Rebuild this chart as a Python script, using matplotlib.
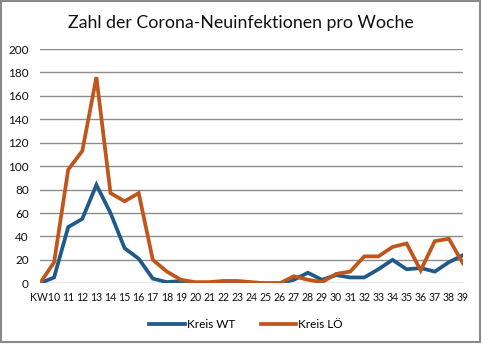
import matplotlib
matplotlib.use("Agg")
import matplotlib.pyplot as plt
from matplotlib.patches import Rectangle

plt.rcParams['font.family'] = ['Lato', 'DejaVu Sans']

# Data: 31 weekly points (first point is a leading zero before KW10)
x_idx = list(range(31))
tick_labels = ["KW10"] + [str(w) for w in range(11, 40)]
kreis_wt = [0, 5, 48, 55, 84, 60, 30, 21, 4, 1, 2, 0, 0, 0, 0, 0, 0, 0, 3, 9,
            3, 7, 5, 5, 12, 20, 12, 13, 10, 18, 24]
kreis_lo = [0, 18, 97, 113, 176, 77, 70, 77, 20, 10, 3, 1, 1, 2, 2, 1, 0, 0, 6, 3,
            1, 8, 10, 23, 23, 31, 34, 11, 36, 38, 17]
y_ticks = [0, 20, 40, 60, 80, 100, 120, 140, 160, 180, 200]

fig = plt.figure(figsize=(4.84, 3.45), dpi=100)
ax = fig.add_axes([40/484, (345-283.3)/345, (463-40)/484, (283.3-49)/345])

ax.plot(x_idx, kreis_wt, color='#1F5A8A', lw=2.7, solid_joinstyle='miter',
        label='Kreis WT', zorder=3)
ax.plot(x_idx, kreis_lo, color='#C0561B', lw=2.7, solid_joinstyle='miter',
        label='Kreis LÖ', zorder=4)

ax.set_xlim(0, 30)
ax.set_ylim(0, 200)
ax.set_yticks(y_ticks)
ax.set_yticklabels([str(v) for v in y_ticks], fontsize=8.5, color='#111111')
tick_pos = [0.35] + list(range(2, 31))
ax.set_xticks(tick_pos)
ax.set_xticklabels(tick_labels, fontsize=7.6, color='#111111')
ax.tick_params(length=0, pad=6)
ax.tick_params(axis='y', pad=8)
ax.grid(axis='y', color='#8c8c8c', lw=1)
ax.set_axisbelow(True)
for s in ax.spines.values():
    s.set_visible(False)

fig.text(241/484, 1 - 23/345, 'Zahl der Corona-Neuinfektionen pro Woche',
         ha='center', va='center', fontsize=12.8, color='#111111')

leg = fig.legend(loc='center', bbox_to_anchor=(246/484, 1 - 325/345), ncol=2,
                 frameon=False, fontsize=8.5, handlelength=3.0, handletextpad=0.15,
                 columnspacing=2.2)

fig.patches.append(Rectangle((1/484, 1 - 342/345), 479/484, 341/345,
                             transform=fig.transFigure, fill=False,
                             edgecolor='#8a8a8a', lw=1.5))

fig.savefig('out.png', dpi=100)
